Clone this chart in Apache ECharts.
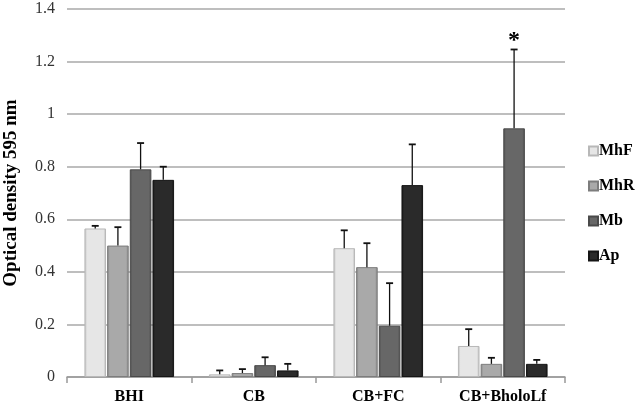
<!DOCTYPE html>
<html>
<head>
<meta charset="utf-8">
<script src="https://cdn.jsdelivr.net/npm/echarts@6/dist/echarts.min.js"></script>
<style>
html,body{margin:0;padding:0;background:#fff;}
#chart{width:638px;height:407px;}
</style>
</head>
<body>
<div id="chart"></div>
<script>
const categories = ['BHI', 'CB', 'CB+FC', 'CB+BholoLf'];
const seriesNames = ['MhF', 'MhR', 'Mb', 'Ap'];
const MhF = [0.565, 0.010, 0.490, 0.118];
const MhR = [0.500, 0.015, 0.418, 0.050];
const Mb  = [0.790, 0.045, 0.195, 0.946];
const Ap  = [0.750, 0.025, 0.730, 0.050];
const MhF_err = [0.010, 0.015, 0.068, 0.064];
const MhR_err = [0.070, 0.015, 0.091, 0.023];
const Mb_err  = [0.100, 0.030, 0.162, 0.300];
const Ap_err  = [0.050, 0.025, 0.155, 0.015];
const Mb_sig  = ['', '', '', '*'];
const yTicks = [0, 0.2, 0.4, 0.6, 0.8, 1, 1.2, 1.4];

const values = [MhF, MhR, Mb, Ap];
const errors = [MhF_err, MhR_err, Mb_err, Ap_err];
const sigs = [null, null, Mb_sig, null];
const colors = ['#e6e6e6', '#a9a9a9', '#676767', '#2a2a2a'];
const borders = ['#b8b8b8', '#7d7d7d', '#4a4a4a', '#151515'];

const CAT_GAP = 0.28, BAR_GAP = 0.05, N = 4;
const serif = '"Liberation Serif", "DejaVu Serif", serif';

function grad(c, b) {
  return new echarts.graphic.LinearGradient(0, 0, 1, 0, [
    {offset: 0, color: b}, {offset: 0.12, color: c}, {offset: 0.88, color: c}, {offset: 1, color: b}
  ]);
}

const series = [];
values.forEach((vals, i) => {
  series.push({
    name: seriesNames[i], type: 'bar', data: vals,
    barGap: (BAR_GAP * 100) + '%', barCategoryGap: (CAT_GAP * 100) + '%',
    itemStyle: {color: grad(colors[i], borders[i]), borderColor: borders[i], borderWidth: 1},
    emphasis: {disabled: true}
  });
});
values.forEach((vals, i) => {
  series.push({
    name: seriesNames[i] + ' err', type: 'custom', z: 5,
    data: vals.map((v, k) => [k, v, errors[i][k]]),
    renderItem: function (params, api) {
      const k = api.value(0), v = api.value(1), e = api.value(2);
      const band = api.size([1, 0])[0];
      const bw = band * (1 - CAT_GAP) / (N + (N - 1) * BAR_GAP);
      const total = bw * N + bw * BAR_GAP * (N - 1);
      const c = api.coord([k, v]);
      const x = c[0] - total / 2 + i * bw * (1 + BAR_GAP) + bw / 2;
      const top = api.coord([k, v + e])[1];
      const cap = 3.5;
      const children = [
        {type: 'line', shape: {x1: x, y1: c[1], x2: x, y2: top}, style: {stroke: '#111', lineWidth: 1.3}},
        {type: 'line', shape: {x1: x - cap, y1: top, x2: x + cap, y2: top}, style: {stroke: '#111', lineWidth: 1.8}}
      ];
      const s = sigs[i] ? sigs[i][k] : '';
      if (s) {
        children.push({type: 'text', x: x, y: top + 3,
          style: {text: s, fontSize: 24, fontWeight: 'bold', fontFamily: serif, fill: '#000', align: 'center', verticalAlign: 'bottom'}});
      }
      return {type: 'group', children: children};
    },
    silent: true
  });
});

const chart = echarts.init(document.getElementById('chart'));
chart.setOption({
  animation: false,
  backgroundColor: '#fff',
  grid: {left: 67, right: 73, top: 9, bottom: 30, outerBoundsMode: 'none', containLabel: false},
  legend: {
    orient: 'vertical', left: 583, top: 138,
    data: seriesNames, itemWidth: 9, itemHeight: 9, itemGap: 19,
    textStyle: {fontFamily: serif, fontSize: 16, fontWeight: 'bold', color: '#000', padding: [0, 0, 0, -4]},
    icon: 'rect', selectedMode: false
  },
  xAxis: {
    type: 'category', data: categories,
    axisLine: {lineStyle: {color: '#999', width: 1.5}},
    axisTick: {show: true, length: 6, lineStyle: {color: '#999', width: 1.5}},
    axisLabel: {fontFamily: serif, fontSize: 16, fontWeight: 'bold', color: '#000', margin: 12}
  },
  yAxis: {
    type: 'value', min: yTicks[0], max: yTicks[yTicks.length - 1], interval: 0.2,
    name: 'Optical density 595 nm', nameLocation: 'middle', nameGap: 46,
    nameTextStyle: {fontFamily: serif, fontSize: 19, fontWeight: 'bold', color: '#000'},
    axisLine: {show: false},
    axisTick: {show: false},
    axisLabel: {fontFamily: serif, fontSize: 16, color: '#333', margin: 12},
    splitLine: {lineStyle: {color: '#a8a8a8', width: 1.5}}
  },
  series: series
});
</script>
</body>
</html>
